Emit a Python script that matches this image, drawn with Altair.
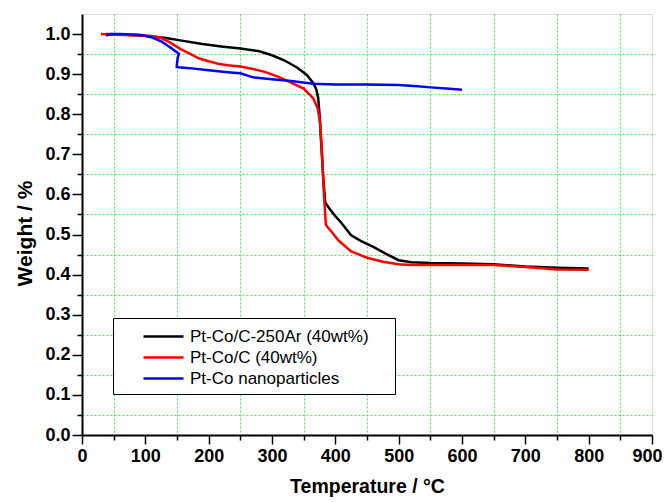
import altair as alt
import pandas as pd

# ---- data ----
names = ["Pt-Co/C-250Ar (40wt%)", "Pt-Co/C (40wt%)", "Pt-Co nanoparticles"]
colors = ["#000000", "#ff0000", "#0000ff"]

black_T = [38, 60, 100, 130, 160, 190, 220, 250, 280, 300, 320, 340, 355, 365, 370, 373, 375, 378,
           381, 384, 390, 400, 410, 425, 440, 460, 480, 500, 520, 550, 600, 650, 700, 750, 800]
black_W = [1.0, 0.999, 0.996, 0.991, 0.983, 0.975, 0.969, 0.964, 0.957, 0.947, 0.934, 0.916, 0.898,
           0.878, 0.862, 0.84, 0.80, 0.72, 0.64, 0.58, 0.566, 0.546, 0.528, 0.498, 0.484, 0.469,
           0.452, 0.436, 0.431, 0.429, 0.428, 0.426, 0.42, 0.417, 0.415]

red_T = [30, 50, 80, 110, 125, 140, 155, 170, 185, 200, 215, 230, 250, 270, 290, 310, 330, 350, 365,
         372, 376, 379, 382, 385, 388, 395, 405, 425, 450, 475, 500, 520, 550, 600, 650, 700, 750, 800]
red_W = [1.0, 0.998, 0.997, 0.995, 0.99, 0.978, 0.963, 0.951, 0.939, 0.932, 0.926, 0.922, 0.919,
         0.913, 0.905, 0.893, 0.879, 0.864, 0.84, 0.815, 0.78, 0.70, 0.60, 0.525, 0.518, 0.505,
         0.485, 0.458, 0.442, 0.432, 0.426, 0.424, 0.424, 0.424, 0.424, 0.419, 0.413, 0.412]

blue_T = [38, 45, 60, 90, 110, 125, 140, 153, 151, 149.5, 152, 170, 200, 230, 250, 270, 300, 330,
          365, 400, 450, 500, 530, 550, 575, 600]
blue_W = [0.996, 1.0, 1.0, 0.998, 0.992, 0.982, 0.966, 0.951, 0.94, 0.918, 0.917, 0.915, 0.91,
          0.905, 0.902, 0.892, 0.887, 0.883, 0.876, 0.874, 0.874, 0.873, 0.870, 0.867, 0.864, 0.861]

x_major = [0, 100, 200, 300, 400, 500, 600, 700, 800, 900]
x_minor = [50, 150, 250, 350, 450, 550, 650, 750, 850]
y_major = [0.0, 0.1, 0.2, 0.3, 0.4, 0.5, 0.6, 0.7, 0.8, 0.9, 1.0]
y_minor = [0.05, 0.15, 0.25, 0.35, 0.45, 0.55, 0.65, 0.75, 0.85, 0.95]

rows = []
for name, T, W in zip(names, [black_T, red_T, blue_T], [black_W, red_W, blue_W]):
    for i, (t, w) in enumerate(zip(T, W)):
        rows.append({"series": name, "T": t, "W": w, "i": i})
df = pd.DataFrame(rows)

FONT = "Liberation Sans"
xscale = alt.Scale(domain=[0, 900], nice=False, zero=False)
yscale = alt.Scale(domain=[0, 1.05], nice=False, zero=False)

grid_x = alt.Axis(orient="bottom", values=x_minor, labels=False, tickSize=5, tickWidth=1.5,
                  tickColor="black", domain=False, grid=True, gridColor="#44ee44",
                  gridDash=[2, 2], gridWidth=1, title=None)
grid_y = alt.Axis(orient="left", values=y_minor, labels=False, tickSize=5, tickWidth=1.5,
                  tickColor="black", domain=False, grid=True, gridColor="#44ee44",
                  gridDash=[2, 2], gridWidth=1, title=None)

grid_layer = alt.Chart(df).mark_point(opacity=0).encode(
    x=alt.X("T:Q", scale=xscale, axis=grid_x),
    y=alt.Y("W:Q", scale=yscale, axis=grid_y),
)

major_x = alt.Axis(orient="bottom", values=x_major, grid=False, tickSize=9, tickWidth=1.5,
                   tickColor="black", domainColor="black", domainWidth=2,
                   labelFont=FONT, labelFontSize=18, labelFontWeight="bold", labelColor="black",
                   labelPadding=3, labelFlush=False,
                   labelOffset={"condition": {"test": "datum.value == 900", "value": -5}, "value": 0},
                   title="Temperature / °C", titleFont=FONT, titleFontSize=19.5,
                   titleFontWeight="bold", titleColor="black", titlePadding=12)
major_y = alt.Axis(orient="left", values=y_major, format=".1f", grid=False, tickSize=10,
                   tickWidth=1.5, tickColor="black", domainColor="black", domainWidth=2,
                   labelFont=FONT, labelFontSize=18, labelFontWeight="bold", labelColor="black",
                   labelPadding=2, labelFlush=False,
                   title="Weight / %", titleFont=FONT, titleFontSize=21, titleY=219,
                   titleFontWeight="bold", titleColor="black", titlePadding=9)

legend = alt.Legend(
    title=".", titleOrient="right", titleOpacity=0, titleFontSize=2, titlePadding=18,
    orient="none", legendX=31, legendY=304, direction="vertical",
    symbolType="M-2,0L2,0", symbolSize=400, symbolStrokeWidth=2.5, symbolOffset=32,
    labelFont=FONT, labelFontSize=17, labelColor="black", labelOffset=15, labelLimit=400,
    rowPadding=1, padding=7, strokeColor="black", fillColor="white", cornerRadius=0,
)

lines = alt.Chart(df).mark_line(strokeWidth=2.5).encode(
    x=alt.X("T:Q", scale=xscale, axis=major_x),
    y=alt.Y("W:Q", scale=yscale, axis=major_y),
    color=alt.Color("series:N", scale=alt.Scale(domain=names, range=colors), legend=legend),
    order="i:Q",
)

chart = alt.layer(grid_layer, lines).resolve_axis(x="independent", y="independent").properties(
    width=570, height=421,
    autosize=alt.AutoSizeParams(type="none"),
    padding={"left": 74, "top": 6, "right": 10, "bottom": 66},
).configure_view(stroke="black", strokeWidth=2).configure(background="white")

chart.save("out.html", embed_options={"renderer": "svg", "actions": False})
